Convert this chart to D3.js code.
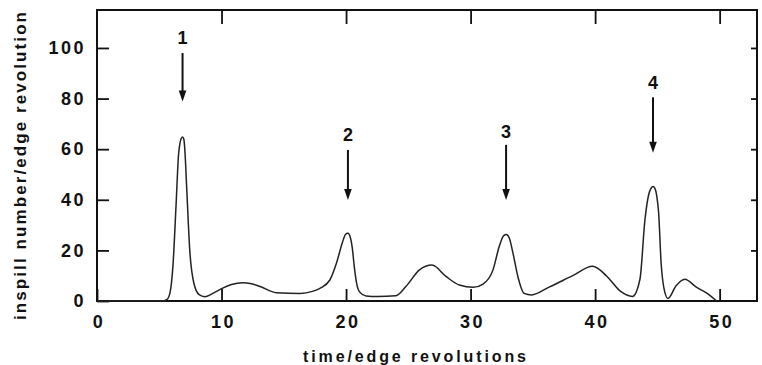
<!DOCTYPE html>
<html>
<head>
<meta charset="utf-8">
<script src="https://cdn.jsdelivr.net/npm/d3@7"></script>
<style>
  body { margin: 0; background: #fff; }
  text { font-family: "Liberation Sans", Arial, Helvetica, sans-serif; font-weight: bold; fill: #111; }
</style>
</head>
<body>
<script>
// ---- data ----
const time = [0, 5.2, 5.6, 5.85, 6.1, 6.35, 6.55, 6.65, 6.77, 6.87, 6.97, 7.05, 7.2, 7.45, 7.78, 8.2, 8.65, 9.3, 10.05, 10.8, 11.7, 12.4, 13.1, 14.4, 16.3, 17.3, 17.9, 18.7, 19.2, 19.7, 19.95, 20.15, 20.35, 20.5, 20.65, 20.85, 21.1, 21.6, 22.5, 24.0, 24.8, 25.9, 26.9, 28.05, 29.1, 30.2, 31.0, 31.8, 32.3, 32.65, 32.87, 33.1, 33.4, 33.8, 34.3, 34.9, 36.3, 38.2, 39.8, 40.9, 42.0, 43.0, 43.6, 44.0, 44.3, 44.5, 44.65, 44.8, 44.95, 45.1, 45.3, 45.6, 45.85, 46.5, 47.2, 48.1, 49.0, 49.75];
const inspill = [0, 0, 0.5, 3, 14, 38, 58, 62, 64.3, 64.8, 64, 60, 45, 20, 7, 2.5, 1.7, 3, 5, 6.5, 7.2, 6.8, 5.7, 3.3, 3, 3.8, 5, 8.3, 14.5, 23, 26.3, 26.8, 25, 21, 14, 7, 3.5, 2, 1.8, 2.1, 5.7, 12.3, 14.2, 9.6, 6.3, 5.4, 6.7, 12.3, 21.5, 25.8, 26.3, 25, 19, 9.6, 3, 2.4, 5.5, 10, 13.7, 10, 4, 1.8, 8.6, 32, 42, 44.6, 45.2, 44.5, 41.5, 35, 15, 3.4, 1, 6, 8.6, 5.6, 3.0, 0];

const xTicks = [0, 10, 20, 30, 40, 50];
const yTicks = [0, 20, 40, 60, 80, 100];
const xTitle = "time/edge revolutions";
const yTitle = "inspill number/edge revolution";

// arrow annotations (data units)
const arrowLabels = ["1", "2", "3", "4"];
const arrowX = [6.87, 20.15, 32.85, 44.65];
const arrowTail = [98, 59.7, 61.7, 80.5];
const arrowTip = [78.8, 39.9, 39.9, 58.6];
const arrowLabelY = [104, 65.6, 66.9, 86.3];

// ---- chart ----
const W = 762, H = 365;
const svg = d3.select("body").append("svg").attr("width", W).attr("height", H);

const x = d3.scaleLinear().domain([0, 53]).range([97, 757]);
const y = d3.scaleLinear().domain([0, 115]).range([301, 10]);

const ink = "#111";

// frame
svg.append("rect")
  .attr("x", x(0)).attr("y", y(115))
  .attr("width", x(53) - x(0)).attr("height", y(0) - y(115))
  .attr("fill", "none").attr("stroke", ink).attr("stroke-width", 2);

function styleAxis(g) {
  g.select(".domain").remove();
  g.selectAll(".tick line").attr("stroke", ink).attr("stroke-width", 1.8);
  g.selectAll(".tick text").attr("fill", ink).style("font-size", "18px").style("letter-spacing", "2.5px");
}

svg.append("g").attr("transform", `translate(${x(0)},0)`)
  .call(d3.axisLeft(y).tickValues(yTicks).tickSize(-12).tickPadding(11).tickFormat(d => d))
  .call(styleAxis);

svg.append("g").attr("transform", `translate(0,${y(0)})`)
  .call(d3.axisBottom(x).tickValues(xTicks).tickSize(-12).tickPadding(14).tickFormat(d => d))
  .call(styleAxis)
  .selectAll(".tick text").attr("dx", "1.5px");

svg.append("g").attr("transform", `translate(0,${y(115)})`)
  .call(d3.axisTop(x).tickValues(xTicks.slice(1)).tickSize(-14).tickFormat(""))
  .call(styleAxis);

svg.append("g").attr("transform", `translate(${x(53)},0)`)
  .call(d3.axisRight(y).tickValues(yTicks.slice(1)).tickSize(-6).tickFormat(""))
  .call(styleAxis);

// curve
const pts = time.map((t, i) => [t, inspill[i]]);
svg.append("path")
  .datum(pts)
  .attr("fill", "none").attr("stroke", "#222").attr("stroke-width", 1.5)
  .attr("stroke-linejoin", "round")
  .attr("d", d3.line().x(d => x(d[0])).y(d => y(d[1])).curve(d3.curveMonotoneX));

// arrows
arrowLabels.forEach((lab, i) => {
  const ax = x(arrowX[i]);
  const yt = y(arrowTail[i]), yh = y(arrowTip[i]);
  svg.append("line")
    .attr("x1", ax).attr("x2", ax).attr("y1", yt).attr("y2", yh - 8)
    .attr("stroke", ink).attr("stroke-width", 2);
  svg.append("path")
    .attr("d", `M${ax - 3.8},${yh - 11} L${ax + 3.8},${yh - 11} L${ax},${yh} Z`)
    .attr("fill", ink);
  svg.append("text")
    .attr("x", ax).attr("y", y(arrowLabelY[i]))
    .attr("dy", "0.36em")
    .attr("text-anchor", "middle")
    .style("font-size", "18px")
    .text(lab);
});

// titles
svg.append("text")
  .attr("x", 414.5).attr("y", 362)
  .attr("text-anchor", "middle")
  .attr("textLength", 223).attr("lengthAdjust", "spacing")
  .style("font-size", "16px")
  .text(xTitle);

svg.append("text")
  .attr("transform", "translate(26,166) rotate(-90)")
  .attr("text-anchor", "middle")
  .attr("textLength", 308).attr("lengthAdjust", "spacing")
  .style("font-size", "17px")
  .text(yTitle);
</script>
</body>
</html>
